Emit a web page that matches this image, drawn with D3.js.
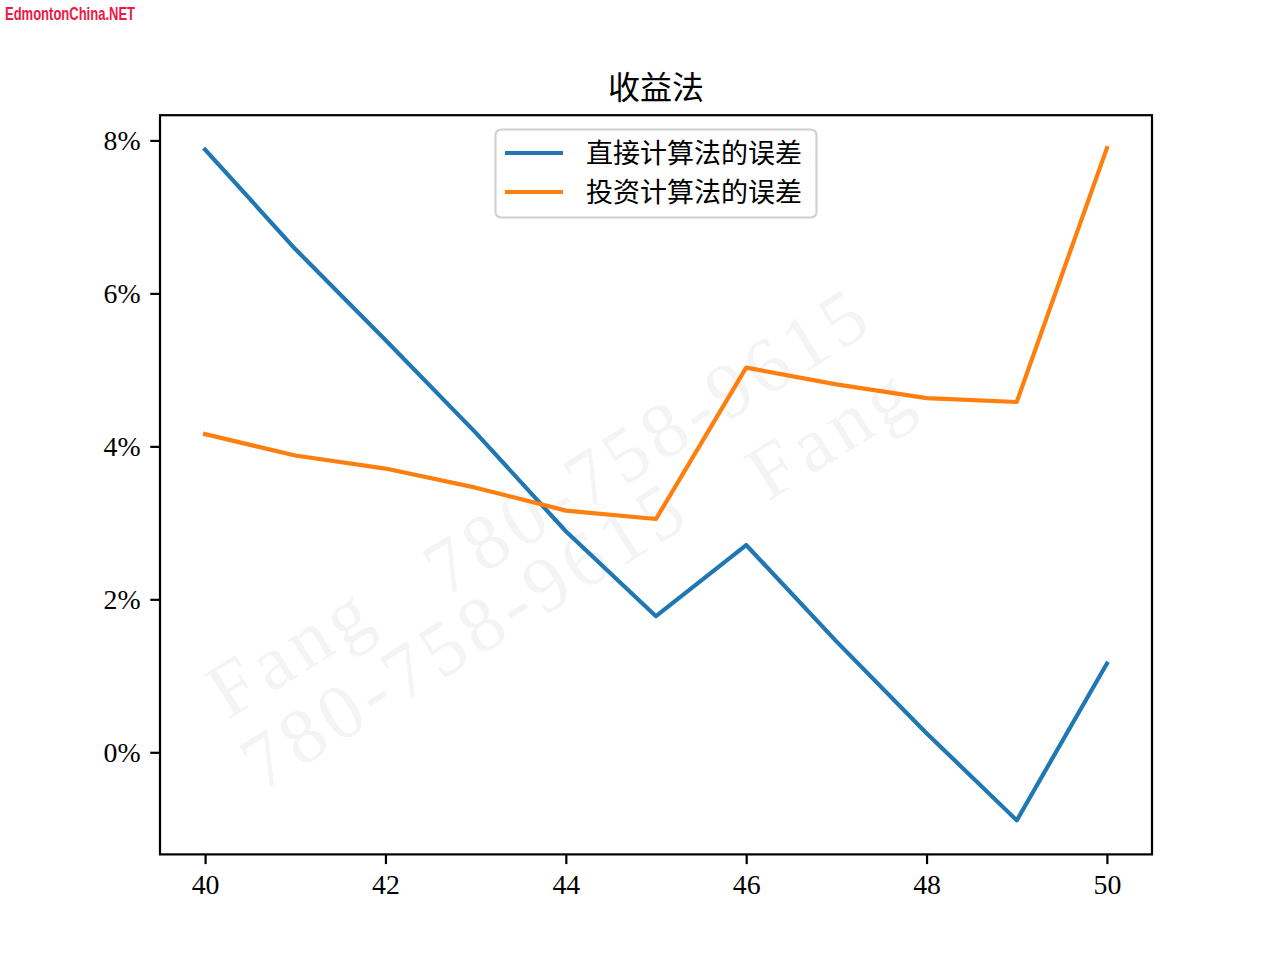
<!DOCTYPE html>
<html><head><meta charset="utf-8">
<script src="https://cdn.jsdelivr.net/npm/d3@7"></script>
<style>body{margin:0;background:#fff}svg{display:block}</style>
</head><body>
<svg id="c" width="1280" height="960"></svg>
<script>
const years = [40,41,42,43,44,45,46,47,48,49,50];
const directErr = [7.88,6.58,5.39,4.18,2.89,1.78,2.71,1.45,0.25,-0.89,1.16];
const investErr = [4.16,3.88,3.71,3.46,3.16,3.05,5.03,4.81,4.63,4.58,7.90];
const seriesNames = ["直接计算法的误差","投资计算法的误差"];
const seriesColors = ["#1f77b4","#ff7f0e"];
const xTicks = [40,42,44,46,48,50];
const yTicks = [0,2,4,6,8];
const title = "收益法";

const svg = d3.select("#c");
const L=160,R=1152,T=115.2,B=854.4;
const x = d3.scaleLinear().domain([39.5,50.5]).range([L,R]);
const y = d3.scaleLinear().domain([-1.335,8.33]).range([B,T]);
const serif = "'Liberation Serif','DejaVu Serif',serif";
const cjk = "'Noto Sans CJK SC','Noto Sans CJK JP',sans-serif";

// brand text
svg.append("text").attr("x",5).attr("y",20).attr("font-family","'Liberation Sans Narrow','Liberation Sans',sans-serif")
  .attr("font-weight","bold").attr("font-size",19).attr("fill","#ee1844")
  .attr("textLength",130).attr("lengthAdjust","spacingAndGlyphs").text("EdmontonChina.NET");

// watermark
const wm = svg.append("g").attr("fill","#f4f4f4").attr("font-family",serif).attr("font-size",78);
const marks = [
  {t:"Fang", x:228, y:720, len:175},
  {t:"780-758-9615", x:262, y:792, len:505},
  {t:"780-758-9615", x:445, y:598, len:505},
  {t:"Fang", x:768, y:502, len:175}
];
marks.forEach(m=>{
  wm.append("text").attr("transform",`translate(${m.x},${m.y}) rotate(-32)`)
    .attr("textLength",m.len).attr("lengthAdjust","spacing").text(m.t);
});

// title
svg.append("text").attr("x",(L+R)/2).attr("y",99).attr("text-anchor","middle")
  .attr("font-family",cjk).attr("font-size",32).attr("fill","#000").text(title);

// lines
const line = d3.line().x((d,i)=>x(years[i])).y(d=>y(d));
[directErr,investErr].forEach((s,k)=>{
  svg.append("path").datum(s).attr("d",line).attr("fill","none")
    .attr("stroke",seriesColors[k]).attr("stroke-width",4.2).attr("stroke-linejoin","round").attr("stroke-linecap","square");
});

// axes frame
svg.append("rect").attr("x",L).attr("y",T).attr("width",R-L).attr("height",B-T)
  .attr("fill","none").attr("stroke","#000").attr("stroke-width",2.2);

const xAxis = d3.axisBottom(x).tickValues(xTicks).tickSize(9.7).tickPadding(9.7).tickFormat(d3.format("d"));
const gx = svg.append("g").attr("transform",`translate(0,${B})`).call(xAxis);
gx.select(".domain").remove();
gx.selectAll("line").attr("stroke","#000").attr("stroke-width",2.2);
gx.selectAll("text").attr("font-family",serif).attr("font-size",27.8).attr("fill","#000");

const yAxis = d3.axisLeft(y).tickValues(yTicks).tickSize(9.7).tickPadding(9.7).tickFormat(d=>d+"%");
const gy = svg.append("g").attr("transform",`translate(${L},0)`).call(yAxis);
gy.select(".domain").remove();
gy.selectAll("line").attr("stroke","#000").attr("stroke-width",2.2);
gy.selectAll("text").attr("font-family",serif).attr("font-size",27.8).attr("fill","#000");

// legend
const lg = svg.append("g");
lg.append("rect").attr("x",495.5).attr("y",129.5).attr("width",321).attr("height",88).attr("rx",5.5)
  .attr("fill","#fff").attr("fill-opacity",0.8).attr("stroke","#d0d0d0").attr("stroke-width",2.2);
seriesNames.forEach((n,i)=>{
  const yy = 153 + i*39;
  lg.append("line").attr("x1",505).attr("x2",563).attr("y1",yy).attr("y2",yy)
    .attr("stroke",seriesColors[i]).attr("stroke-width",4.2);
  lg.append("text").attr("x",586).attr("y",yy+10).attr("font-family",cjk).attr("font-size",27)
    .attr("fill","#000").text(n);
});
</script>
</body></html>
